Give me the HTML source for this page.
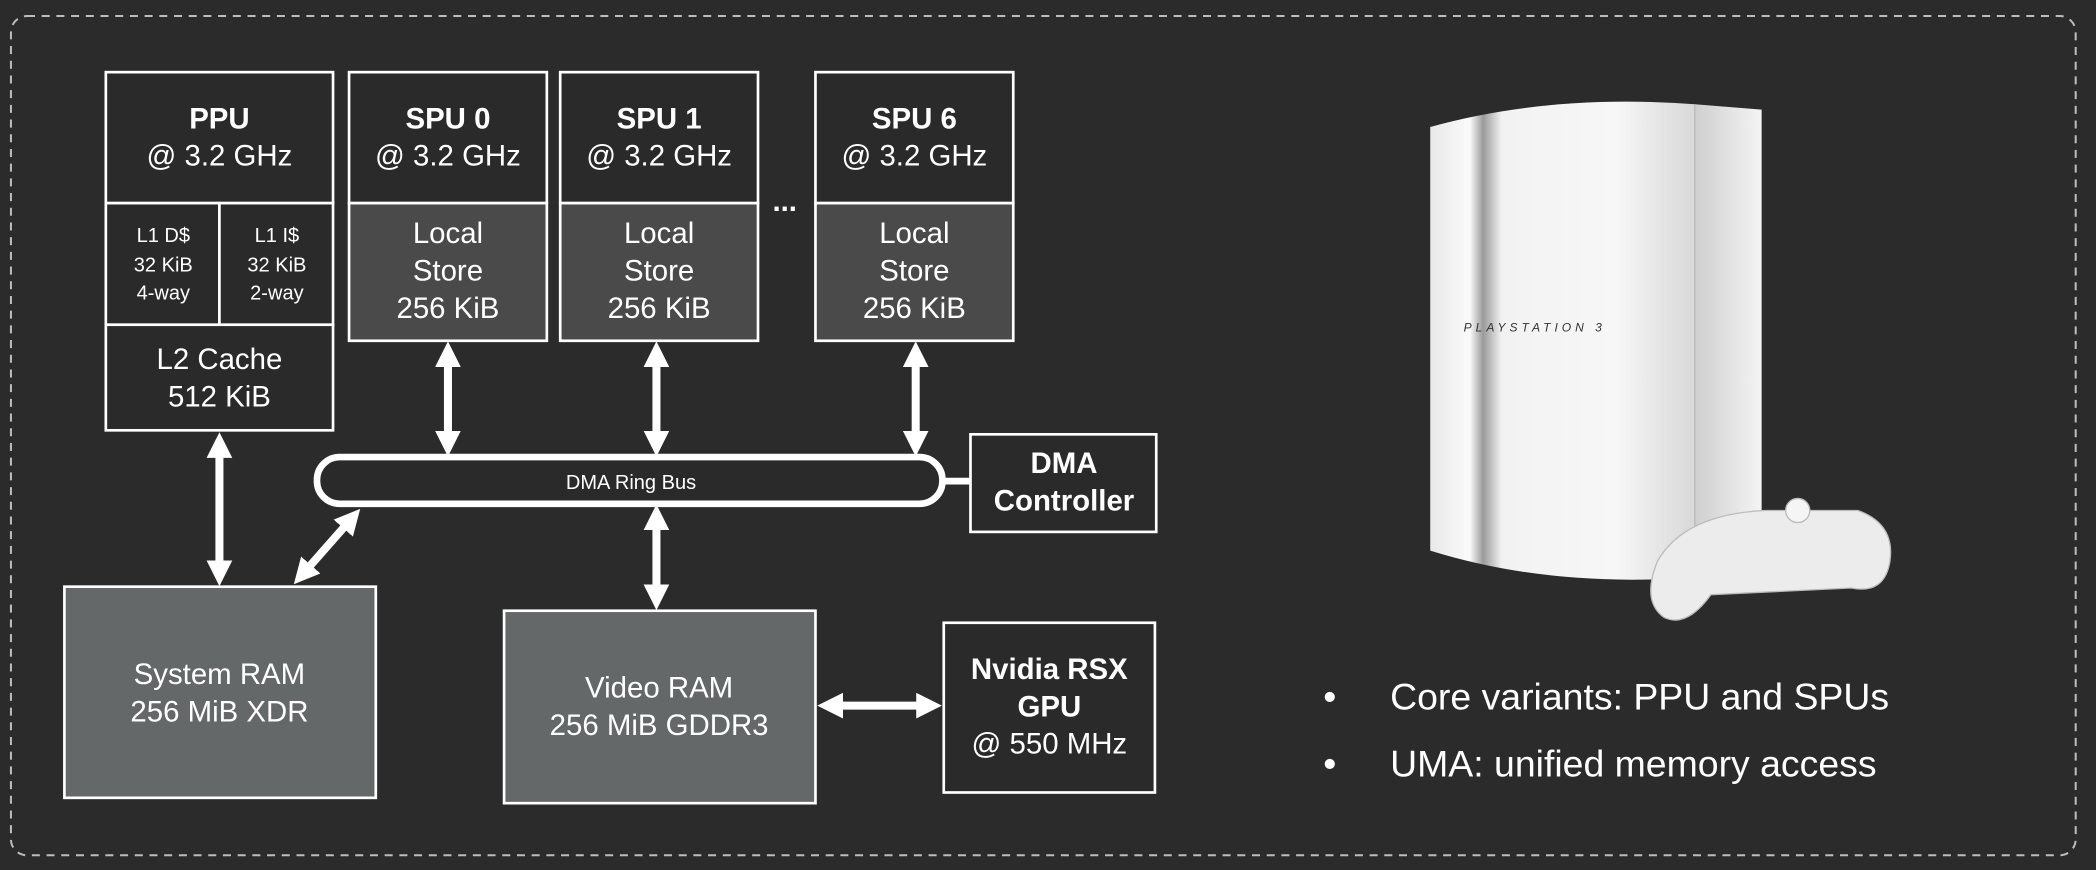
<!DOCTYPE html>
<html><head><meta charset="utf-8"><style>
html,body{margin:0;padding:0;background:#2b2b2b;}
svg{display:block}
text{font-family:"Liberation Sans",Arial,sans-serif;fill:#fff}
</style></head><body>
<svg width="2096" height="870" viewBox="0 0 1568 651" xmlns="http://www.w3.org/2000/svg">
<defs>
<marker id="a" viewBox="0 0 10 10" refX="5" refY="5" markerWidth="3.2" markerHeight="3.2" orient="auto-start-reverse"><path d="M0,0 L10,5 L0,10 z" fill="#fff"/></marker>
<linearGradient id="c" x1="0" x2="1" y1="0" y2="0">
<stop offset="0" stop-color="#e9e9e9"/><stop offset="0.15" stop-color="#fafafa"/><stop offset="0.2" stop-color="#9a9a9a"/><stop offset="0.27" stop-color="#f2f2f2"/><stop offset="0.7" stop-color="#f7f7f7"/><stop offset="1" stop-color="#d8d8d8"/></linearGradient>
<linearGradient id="s" x1="0" x2="1"><stop offset="0" stop-color="#cfcfcf"/><stop offset="1" stop-color="#f4f4f4"/></linearGradient>
</defs>
<rect width="1568" height="651" fill="#2b2b2b"/>
<rect x="8" y="12" width="1545" height="628" rx="12" fill="none" stroke="#bdbdbd" stroke-width="1.5" stroke-dasharray="6,5"/>
<g stroke="#fff" stroke-width="2">
<rect x="79" y="54" width="170" height="98" fill="#2a2a2a"/>
<rect x="79" y="152" width="85" height="91" fill="#2a2a2a"/>
<rect x="164" y="152" width="85" height="91" fill="#2a2a2a"/>
<rect x="79" y="243" width="170" height="79" fill="#2a2a2a"/>
<rect x="261" y="54" width="148" height="98" fill="#2a2a2a"/>
<rect x="261" y="152" width="148" height="103" fill="#4a4a4a"/>
<rect x="419" y="54" width="148" height="98" fill="#2a2a2a"/>
<rect x="419" y="152" width="148" height="103" fill="#4a4a4a"/>
<rect x="610" y="54" width="148" height="98" fill="#2a2a2a"/>
<rect x="610" y="152" width="148" height="103" fill="#4a4a4a"/>
<rect x="726" y="325" width="139" height="73" fill="#2a2a2a"/>
<rect x="48" y="439" width="233" height="158" fill="#646868"/>
<rect x="377" y="457" width="233" height="144" fill="#646868"/>
<rect x="706" y="466" width="158" height="127" fill="#2a2a2a"/>
</g>
<line x1="705" y1="360" x2="726" y2="360" stroke="#fff" stroke-width="5"/>
<rect x="237" y="342" width="468" height="35" rx="17" fill="#2a2a2a" stroke="#fff" stroke-width="5"/>
<text x="472" y="366" font-size="15" text-anchor="middle">DMA Ring Bus</text>
<g stroke="#fff" stroke-width="6" marker-start="url(#a)" marker-end="url(#a)">
<line x1="335" y1="265" x2="335" y2="332"/>
<line x1="491" y1="265" x2="491" y2="332"/>
<line x1="685" y1="265" x2="685" y2="332"/>
<line x1="164" y1="333" x2="164" y2="429"/>
<line x1="263" y1="388" x2="226" y2="430"/>
<line x1="491" y1="387" x2="491" y2="447"/>
<line x1="621" y1="528" x2="695" y2="528"/>
</g>
<g text-anchor="middle" font-size="22">
<text x="164" y="96" font-weight="bold">PPU</text><text x="164" y="124">@ 3.2 GHz</text>
<text x="335" y="96" font-weight="bold">SPU 0</text><text x="335" y="124">@ 3.2 GHz</text>
<text x="493" y="96" font-weight="bold">SPU 1</text><text x="493" y="124">@ 3.2 GHz</text>
<text x="684" y="96" font-weight="bold">SPU 6</text><text x="684" y="124">@ 3.2 GHz</text>
<text x="335" y="182">Local</text><text x="335" y="210">Store</text><text x="335" y="238">256 KiB</text>
<text x="493" y="182">Local</text><text x="493" y="210">Store</text><text x="493" y="238">256 KiB</text>
<text x="684" y="182">Local</text><text x="684" y="210">Store</text><text x="684" y="238">256 KiB</text>
<text x="164" y="276">L2 Cache</text><text x="164" y="304">512 KiB</text>
<text x="587" y="158" font-weight="bold">...</text>
<text x="796" y="354" font-weight="bold">DMA</text><text x="796" y="382" font-weight="bold">Controller</text>
<text x="164" y="512">System RAM</text><text x="164" y="540">256 MiB XDR</text>
<text x="493" y="522">Video RAM</text><text x="493" y="550">256 MiB GDDR3</text>
<text x="785" y="508" font-weight="bold">Nvidia RSX</text><text x="785" y="536" font-weight="bold">GPU</text><text x="785" y="564">@ 550 MHz</text>
</g>
<g text-anchor="middle" font-size="15">
<text x="122" y="181">L1 D$</text><text x="122" y="203">32 KiB</text><text x="122" y="224">4-way</text>
<text x="207" y="181">L1 I$</text><text x="207" y="203">32 KiB</text><text x="207" y="224">2-way</text>
</g>
<!-- PS3 -->
<path d="M1070,95 Q1160,70 1268,78 L1268,432 Q1160,440 1070,412 Z" fill="url(#c)"/>
<path d="M1268,78 L1318,82 L1318,428 L1268,432 Z" fill="url(#s)"/>
<line x1="1268" y1="78" x2="1268" y2="432" stroke="#bbb" stroke-width="1"/>
<text x="1095" y="248" font-size="9" font-style="italic" letter-spacing="3" style="fill:#333">PLAYSTATION 3</text>
<path d="M1240,420 Q1260,385 1320,382 L1390,382 Q1418,392 1414,420 Q1410,445 1385,440 L1280,445 Q1262,470 1245,462 Q1228,450 1240,420 Z" fill="#ececec" stroke="#bbb" stroke-width="1"/>
<circle cx="1345" cy="382" r="9" fill="#f5f5f5" stroke="#bbb"/>
<g font-size="28">
<text x="990" y="531">•</text><text x="1040" y="531">Core variants: PPU and SPUs</text>
<text x="990" y="581">•</text><text x="1040" y="581">UMA: unified memory access</text>
</g>
</svg>
</body></html>
